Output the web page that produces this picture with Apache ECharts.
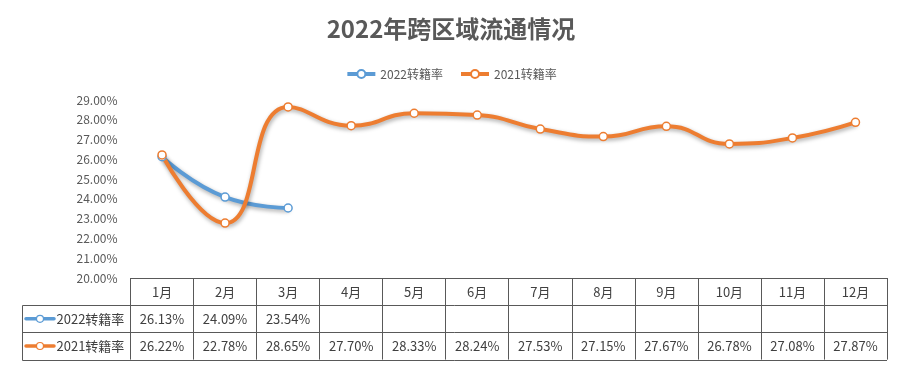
<!DOCTYPE html>
<html><head><meta charset="utf-8">
<script src="https://cdn.jsdelivr.net/npm/echarts@6/dist/echarts.min.js"></script>
<style>html,body{margin:0;padding:0;background:#fff}#c{width:902px;height:367px}</style>
</head><body><div id="c"></div>
<script>
const titleText = '2022年跨区域流通情况';
const seriesNames = ['2022转籍率', '2021转籍率'];
const categories = ['1月','2月','3月','4月','5月','6月','7月','8月','9月','10月','11月','12月'];
const rate2022 = [26.13, 24.09, 23.54, null, null, null, null, null, null, null, null, null];
const rate2021 = [26.22, 22.78, 28.65, 27.70, 28.33, 28.24, 27.53, 27.15, 27.67, 26.78, 27.08, 27.87];
const yMin = 20, yMax = 29, yStep = 1;
const colors = ['#5B9BD5', '#ED7D31'];
const FONT = '"Noto Sans CJK SC", "Noto Sans", sans-serif';

const fmt = v => (v === null || v === undefined) ? '' : v.toFixed(2) + '%';
const ROW = 27.2;

const chart = echarts.init(document.getElementById('c'), null, {renderer: 'canvas'});

function mkSeries(name, data, color) {
  return {
    name: name, type: 'line', data: data, smooth: 0.5,
    symbol: 'circle', symbolSize: 8, showSymbol: true,
    connectNulls: false,
    lineStyle: {color: color, width: 4, shadowColor: 'rgba(0,0,0,0.35)', shadowBlur: 4, shadowOffsetY: 2, shadowOffsetX: 1},
    itemStyle: {color: '#fff', borderColor: color, borderWidth: 1.5},
    emphasis: {disabled: true}
  };
}

const option = {
  animation: false,
  backgroundColor: '#fff',
  textStyle: {fontFamily: FONT},
  title: {
    text: titleText, left: 'center', top: 12,
    textStyle: {fontSize: 24, fontWeight: 'bold', color: '#595959', fontFamily: FONT}
  },
  legend: {
    top: 63, left: 'center', itemWidth: 28, itemHeight: 10, itemGap: 16,
    data: seriesNames,
    lineStyle: {width: 4},
    textStyle: {fontSize: 12, color: '#595959', fontFamily: FONT}
  },
  grid: {left: 130.5, right: 15, top: 100, bottom: 89, containLabel: false},
  xAxis: {
    type: 'category', data: categories, boundaryGap: true,
    axisLine: {show: true, lineStyle: {color: '#595959', width: 1}},
    axisTick: {show: true, length: ROW * 3, interval: 0, lineStyle: {color: '#595959', width: 1}},
    axisLabel: {
      interval: 0, margin: 0,
      formatter: (val, idx) => '{m|' + val + '}\n{v|' + fmt(rate2022[idx]) + '}\n{v|' + fmt(rate2021[idx]) + '}',
      rich: {
        m: {fontSize: 13, lineHeight: ROW, color: '#404040', fontFamily: FONT},
        v: {fontSize: 13, lineHeight: ROW, color: '#404040', fontFamily: FONT}
      }
    }
  },
  yAxis: {
    type: 'value', min: yMin, max: yMax, interval: yStep,
    axisLine: {show: false}, axisTick: {show: false}, splitLine: {show: false},
    axisLabel: {formatter: v => v.toFixed(2) + '%', fontSize: 12, color: '#595959', margin: 13, fontFamily: FONT}
  },
  series: [mkSeries(seriesNames[0], rate2022, colors[0]), mkSeries(seriesNames[1], rate2021, colors[1])]
};
chart.setOption(option);

// Data-table row header and horizontal rules, positioned from the chart's own scales
const c0 = chart.convertToPixel({xAxisIndex: 0}, 0);
const c1 = chart.convertToPixel({xAxisIndex: 0}, 1);
const band = c1 - c0;
const right = c0 + band * (categories.length - 0.5);
const yTop = chart.convertToPixel({yAxisIndex: 0}, yMin);
const headLeft = 22.5;
const crisp = v => Math.round(v) + 0.5;
const g = [];
for (let r = 1; r <= 3; r++) {
  const y = crisp(yTop + ROW * r);
  g.push({type: 'line', shape: {x1: headLeft, y1: y, x2: right, y2: y}, style: {stroke: '#595959', lineWidth: 1}, silent: true});
}
g.push({type: 'line', shape: {x1: headLeft, y1: crisp(yTop + ROW), x2: headLeft, y2: crisp(yTop + ROW * 3)}, style: {stroke: '#595959', lineWidth: 1}, silent: true});
seriesNames.forEach((name, i) => {
  const cy = yTop + ROW * (i + 1.5);
  g.push({type: 'line', shape: {x1: 26, y1: cy, x2: 54, y2: cy}, style: {stroke: colors[i], lineWidth: 3.5, lineCap: 'round'}, silent: true});
  g.push({type: 'circle', shape: {cx: 40, cy: cy, r: 3.5}, style: {fill: '#fff', stroke: colors[i], lineWidth: 1.2}, silent: true});
  g.push({type: 'text', x: 56.5, y: cy, style: {text: name, fontSize: 13, fill: '#404040', fontFamily: FONT, verticalAlign: 'middle', align: 'left'}, silent: true});
});
chart.setOption({graphic: g});
</script></body></html>
